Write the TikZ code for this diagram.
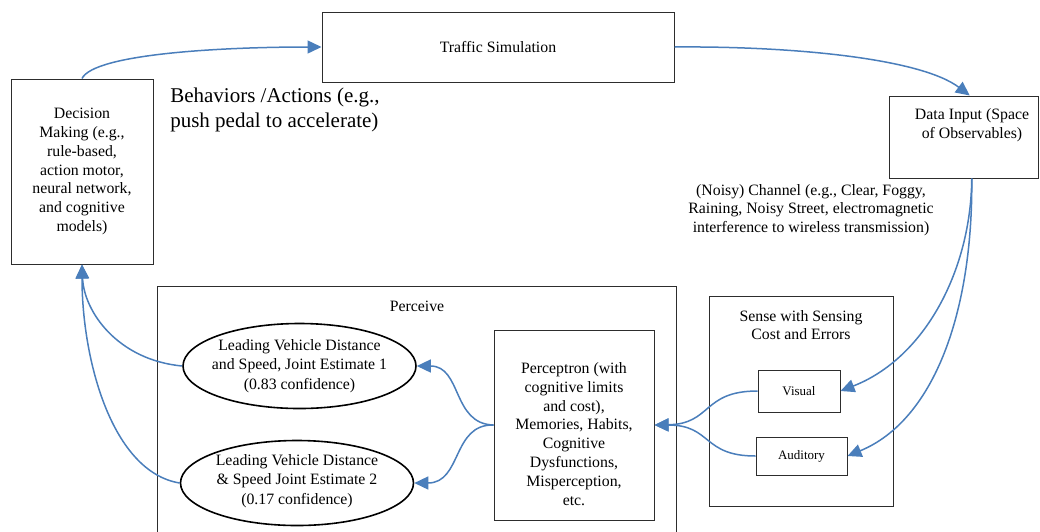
\documentclass[tikz,border=0pt]{standalone}
\usepackage{fontspec}
\setmainfont{Liberation Serif}
\usetikzlibrary{arrows.meta,shapes.geometric}
\definecolor{flowblue}{RGB}{74,126,187}
\definecolor{boxline}{RGB}{45,45,45}
\tikzset{
  txt/.style={font=\fontsize{15.8}{18.8}\selectfont, align=center, inner sep=0pt},
  bigtxt/.style={font=\fontsize{21}{25}\selectfont, align=left, inner sep=0pt},
  smalltxt/.style={font=\fontsize{13}{15.5}\selectfont, align=center, inner sep=0pt},
  box/.style={draw=boxline, line width=1pt, rectangle, inner sep=0pt},
  oval/.style={draw=black, line width=1.6pt, ellipse, inner sep=0pt,
    minimum width=233pt, minimum height=85pt},
  ovaltxt/.style={font=\fontsize{15.8}{19.2}\selectfont, align=center, inner sep=0pt},
  flow/.style={draw=flowblue, line width=1.5pt,
    -{Triangle[length=14pt,width=13pt]}, fill=none}
}
\begin{document}
\begin{tikzpicture}[x=1pt,y=-1pt]
\useasboundingbox (0,0) rectangle (1040,531);
\clip (0,0) rectangle (1040,531);

% main blocks
\node[box, txt, minimum width=352pt, minimum height=70pt] (traffic) at (498,47) {Traffic Simulation};
\node[box, txt, minimum width=142pt, minimum height=185pt] (dec) at (82,171.5)
  {Decision\\Making (e.g.,\\rule-based,\\action motor,\\neural network,\\and cognitive\\models)};
\node[box, minimum width=149.5pt, minimum height=82pt] (data) at (963.75,137) {};
\node[txt] (dataTxt) at (972,125.5) {Data Input (Space\\of Observables)};

% free labels
\node[bigtxt] (behav) at (275,109.5) {Behaviors /Actions (e.g.,\\push pedal to accelerate)};
\node[txt] (noisy) at (811,210) {(Noisy) Channel (e.g., Clear, Foggy,\\Raining, Noisy Street, electromagnetic\\interference to wireless transmission)};

% perceive group
\node[box, minimum width=519pt, minimum height=274pt] (perceive) at (416.5,423) {};
\node[txt] (perceiveLbl) at (417,306) {Perceive};
\node[oval] (e1) at (299.5,366) {};
\node[ovaltxt] (e1Txt) at (299.5,366) {Leading Vehicle Distance\\and Speed, Joint Estimate 1\\(0.83 confidence)};
\node[oval] (e2) at (297,483) {};
\node[ovaltxt] (e2Txt) at (297,481) {Leading Vehicle Distance\\\& Speed Joint Estimate 2\\(0.17 confidence)};
\node[box, minimum width=160pt, minimum height=190pt] (perc) at (574,425) {};
\node[txt] (percTxt) at (574,434) {Perceptron (with\\cognitive limits\\and cost),\\Memories, Habits,\\Cognitive\\Dysfunctions,\\Misperception,\\etc.};

% sensing group
\node[box, minimum width=184pt, minimum height=210pt] (sense) at (801,401) {};
\node[txt] (senseLbl) at (801,325) {Sense with Sensing\\Cost and Errors};
\node[box, smalltxt, minimum width=82pt, minimum height=42pt] (vis) at (799,391) {Visual};
\node[box, smalltxt, minimum width=91pt, minimum height=38pt] (aud) at (801.5,456) {Auditory};

% connectors
\draw[flow] (dec.north) .. controls (94,54) and (220,47) .. (traffic.west);
\draw[flow] (traffic.east) .. controls (790,46) and (920,58) .. ([xshift=6pt]data.north);
\draw[flow] ([xshift=8pt]data.south) .. controls (971,270) and (925,358) .. (vis.east);
\draw[flow] ([xshift=8pt]data.south) .. controls (973,310) and (935,420) .. (aud.east);
\draw[flow] (vis.west) .. controls (702,391) and (712,424) .. (perc.east);
\draw[flow] (aud.west) .. controls (702,456) and (712,425) .. (perc.east);
\draw[flow] (perc.west) .. controls (452,424) and (462,366) .. (e1.east);
\draw[flow] (perc.west) .. controls (452,424) and (462,483) .. (e2.east);
\draw[flow] (e1.west) .. controls (118,360) and (84,312) .. (dec.south);
\draw[flow] (e2.west) .. controls (112,472) and (82,360) .. (dec.south);
\end{tikzpicture}
\end{document}
